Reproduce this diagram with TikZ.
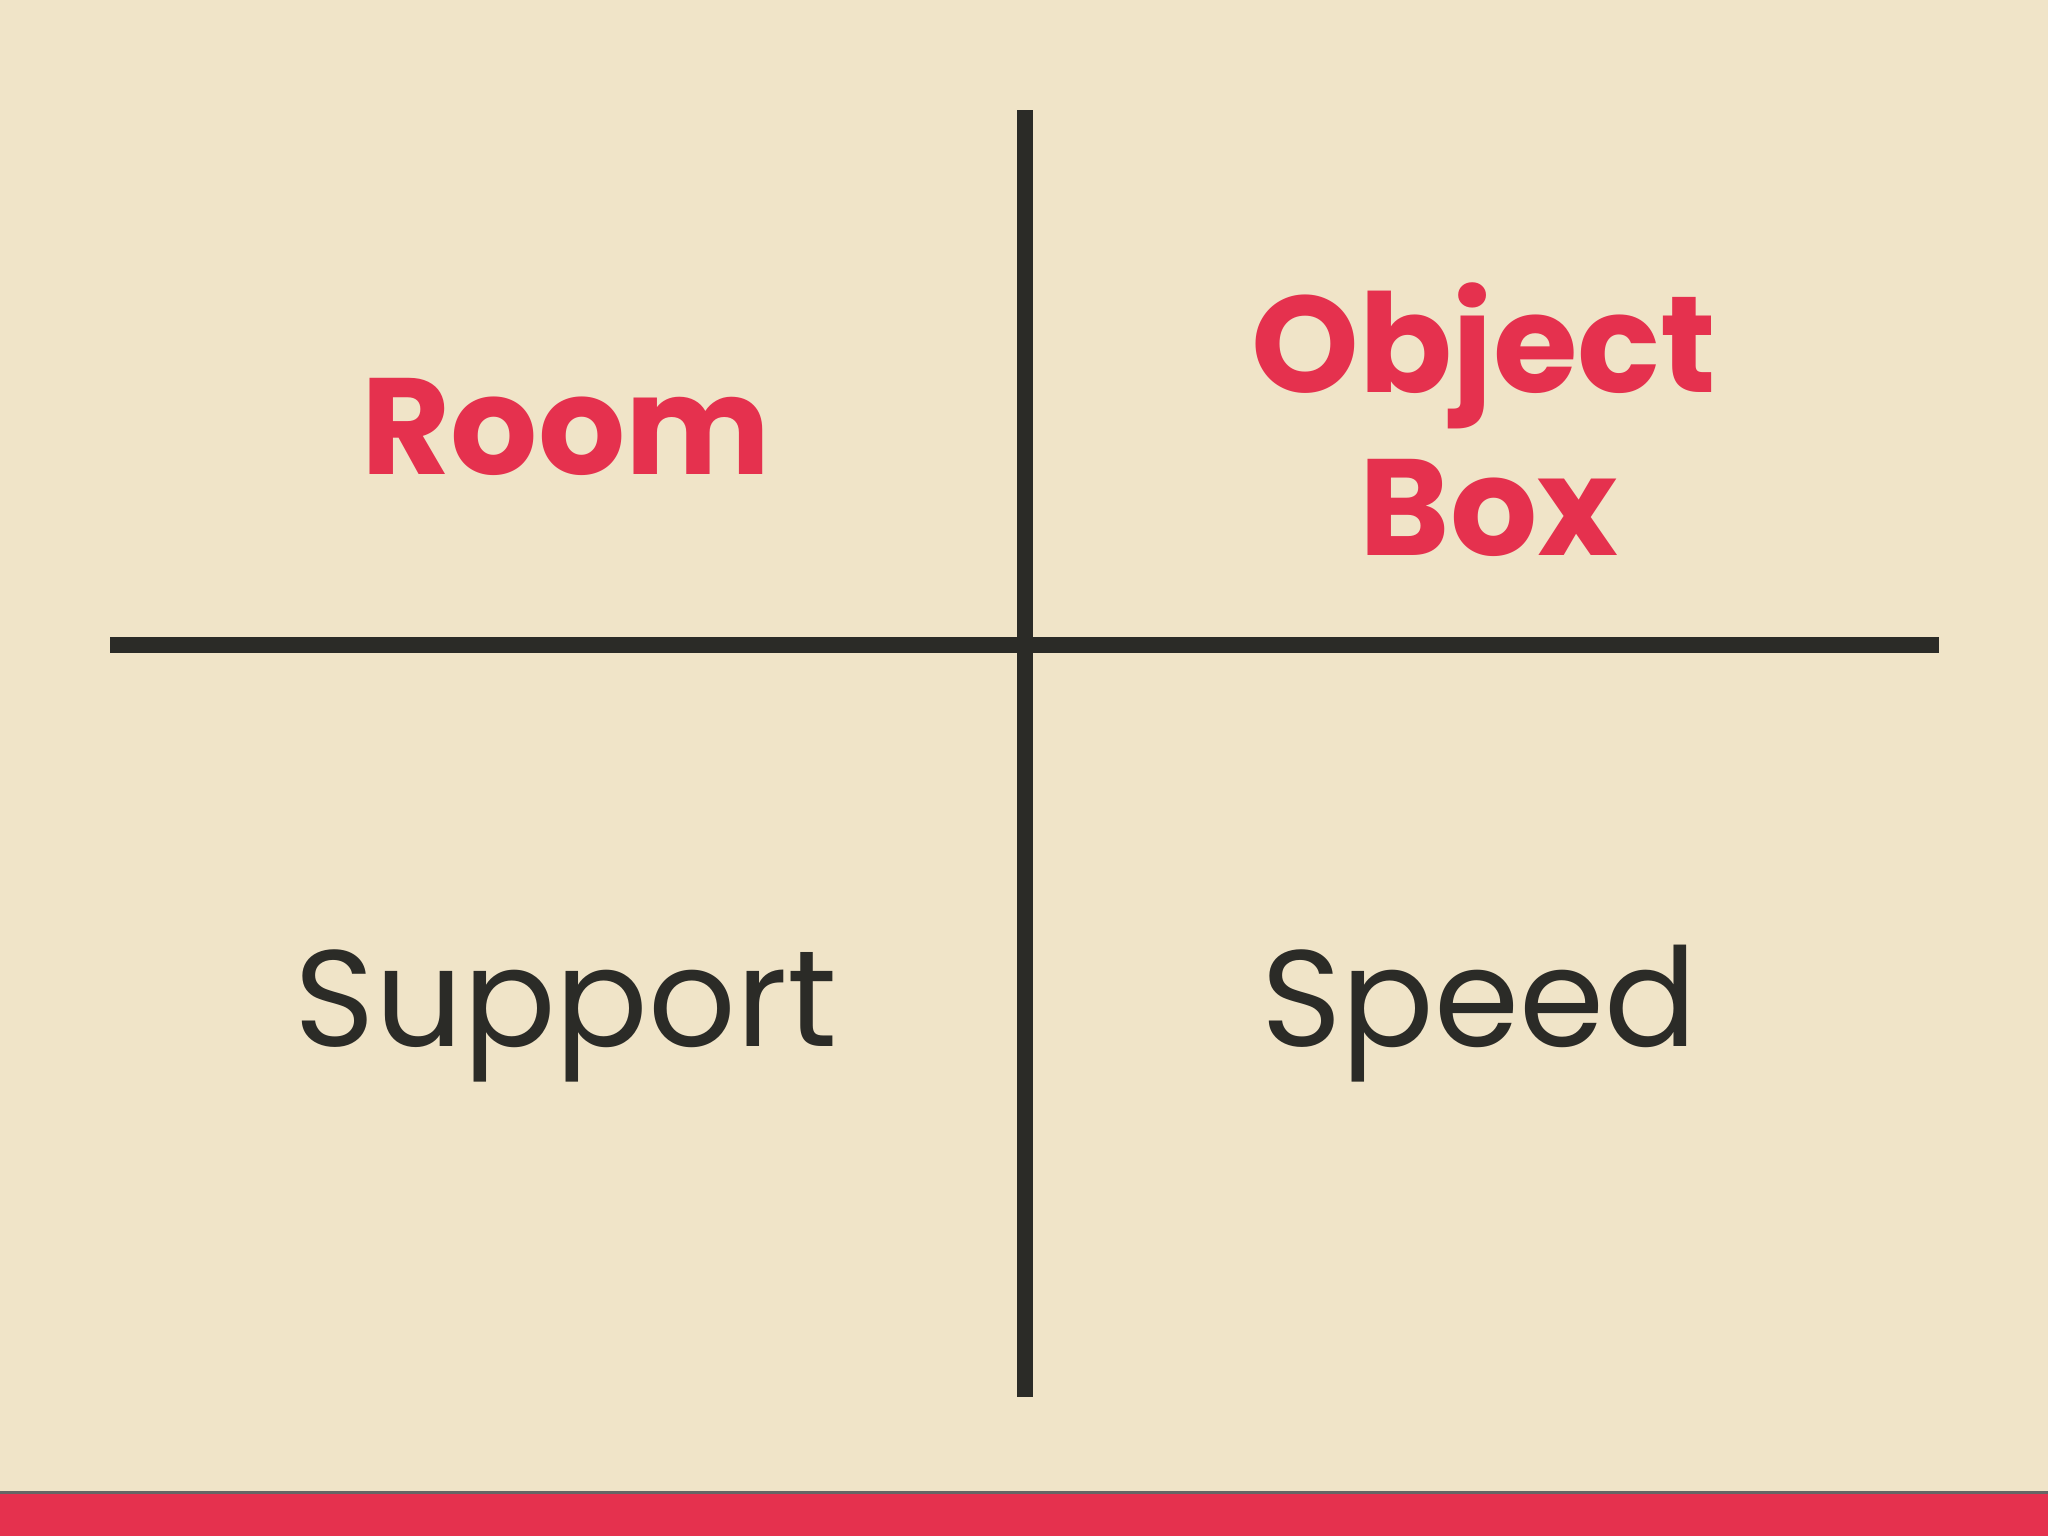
\documentclass[tikz,border=0pt]{standalone}
\usepackage{fontspec}
\setmainfont{Poppins}
\usepackage{tikz}
\usetikzlibrary{positioning}

\definecolor{paper}{HTML}{F0E4C8}
\definecolor{crimson}{HTML}{E5314E}
\definecolor{ink}{HTML}{2B2B27}

\begin{document}
\begin{tikzpicture}[x=0.1mm,y=-0.1mm]

	\tikzstyle{axis} = [draw=ink, line width=1.6mm]
	\tikzstyle{bigword} = [inner sep=0pt, anchor=base, font=\fontsize{39}{46}\selectfont]
	\tikzstyle{redword} = [bigword, text=crimson, font=\fontsize{39}{46}\selectfont\bfseries, align=center]
	\tikzstyle{darkword} = [bigword, text=ink]

	% page
	\fill[paper] (0,0) rectangle (2048,1536);
	\useasboundingbox (0,0) rectangle (2048,1536);

	% quadrant lines
	\coordinate (top) at (1025,110);
	\coordinate (bottom) at (1025,1397);
	\coordinate (left) at (110,645);
	\coordinate (right) at (1939,645);
	\draw[axis] (top) -- (bottom);
	\draw[axis] (left) -- (right);

	% labels
	\node[redword] (room) at (566,474) {Room};
	\node[redword] (object) at (1484,392) {Object};
	\node[redword] (box) at (1489,555) {Box};
	\node[darkword] (support) at (566,1046) {Support};
	\node[darkword] (speed) at (1479,1046) {Speed};

	% footer bar
	\fill[gray!70!ink] (0,1491) rectangle (2048,1494);
	\fill[crimson] (0,1494) rectangle (2048,1536);
\end{tikzpicture}
\end{document}
